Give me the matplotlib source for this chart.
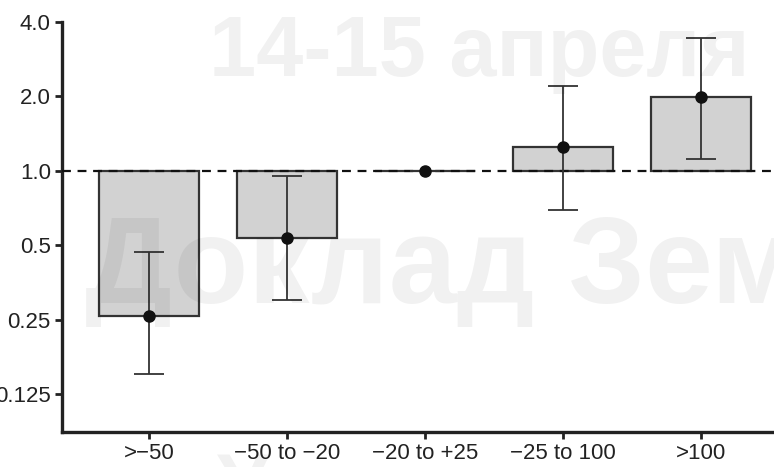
import matplotlib
matplotlib.use("Agg")
import matplotlib.pyplot as plt
from matplotlib import font_manager
from matplotlib.ticker import FixedLocator, FixedFormatter, NullLocator
import numpy as np

# Relative risk by change category
categories = [">\u221250", "\u221250 to \u221220", "\u221220 to +25", "\u221225 to 100", ">100"]
ratio = [0.259, 0.535, 1.0, 1.25, 1.98]
ci_low = [0.151, 0.30, 1.0, 0.695, 1.12]
ci_high = [0.47, 0.955, 1.0, 2.21, 3.43]

y_ticks = [0.125, 0.25, 0.5, 1.0, 2.0, 4.0]
y_labels = ["0.125", "0.25", "0.5", "1.0", "2.0", "4.0"]

names = {f.name for f in font_manager.fontManager.ttflist}
family = "Liberation Sans Narrow" if "Liberation Sans Narrow" in names else "Liberation Sans"
plt.rcParams["font.family"] = [family, "DejaVu Sans"]

fig = plt.figure(figsize=(7.74, 4.67), dpi=100)
ax = fig.add_axes([0.080, 0.075, 0.92, 0.878])

# background watermark
wm = dict(color="#000000", alpha=0.055, fontweight="bold", family=["Liberation Sans", "DejaVu Sans"],
          transform=fig.transFigure, zorder=10)
fig.text(0.27, 0.885, "14-15 апреля", fontsize=61, ha="left", va="center", **wm)
fig.text(0.11, 0.42, "Доклад Зем", fontsize=88, ha="left", va="center", **wm)
fig.text(0.28, -0.05, "Уч", fontsize=60, ha="left", va="center", **wm)

x = np.arange(len(categories))
heights = [r - 1.0 for r in ratio]
ax.bar(x, heights, bottom=1.0, width=0.72, color="#d2d2d2",
       edgecolor="#333333", linewidth=1.6, zorder=2)

yerr = [np.array(ratio) - np.array(ci_low), np.array(ci_high) - np.array(ratio)]
ax.errorbar(x, ratio, yerr=yerr, fmt="o", color="#111111", ecolor="#333333",
            elinewidth=1.3, capsize=11, capthick=1.3, markersize=8, zorder=4)

ax.axhline(1.0, color="#111111", linestyle=(0, (4, 3)), linewidth=1.6, zorder=3)

ax.set_yscale("log", base=2)
ax.set_ylim(0.0877, 4.0)
ax.set_xlim(-0.63, 4.53)
ax.yaxis.set_major_locator(FixedLocator(y_ticks))
ax.yaxis.set_major_formatter(FixedFormatter(y_labels))
ax.yaxis.set_minor_locator(NullLocator())
ax.set_xticks(x)
ax.set_xticklabels(categories)

for side in ("top", "right"):
    ax.spines[side].set_visible(False)
for side in ("left", "bottom"):
    ax.spines[side].set_linewidth(2.4)
    ax.spines[side].set_color("#222222")

ax.tick_params(axis="both", labelsize=16, colors="#222222", width=2, length=5, pad=3)

fig.savefig("out.png", dpi=100)
